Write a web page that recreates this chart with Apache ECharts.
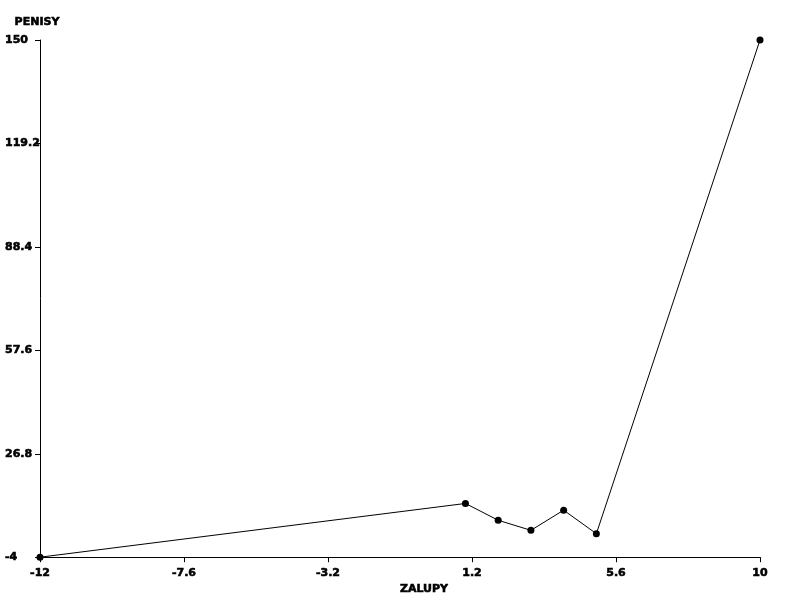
<!DOCTYPE html>
<html lang="en">
<head>
  <meta charset="UTF-8">
  <title>PENISY / ZALUPY</title>
  <script src="https://cdn.jsdelivr.net/npm/echarts@6/dist/echarts.min.js"></script>
  <style>
    html, body { margin: 0; padding: 0; background: #fff; }
  </style>
</head>
<body>
<div id="main" style="width:800px;height:600px;"></div>
<script>
  // data points
  const xValues = [-12, 1, 2, 3, 4, 5, 10];
  const yValues = [-4, 12, 7, 4, 10, 3, 150];
  // axis ranges / steps
  const xRange = [-12, 10];
  const xStep = 4.4;
  const yRange = [-4, 150];
  const yStep = 30.8;

  const font = 'DejaVu Sans';
  // heavy black text like the reference
  const txt = {
    color: '#000', fontFamily: font, fontWeight: 'bold', fontSize: 11,
    textBorderColor: '#000', textBorderWidth: 0.6
  };
  let myChart = echarts.init(document.getElementById('main'));
  let option = {
    animation: false,
    grid: { left: 40, right: 40, top: 40, bottom: 40 },
    xAxis: {
      type: 'value',
      min: xRange[0],
      max: xRange[1],
      interval: xStep,
      name: 'ZALUPY',
      nameLocation: 'middle',
      nameGap: 25,
      nameTextStyle: Object.assign({}, txt, { align: 'left' }),
      axisLine: { onZero: false, lineStyle: { color: '#000', width: 1 } },
      axisTick: { show: true, length: 5, lineStyle: { color: '#000' } },
      axisLabel: Object.assign({}, txt, { margin: 10 }),
      splitLine: { show: false }
    },
    yAxis: {
      type: 'value',
      min: yRange[0],
      max: yRange[1],
      interval: yStep,
      name: 'PENISY',
      nameLocation: 'end',
      nameGap: 12,
      nameTextStyle: Object.assign({}, txt, { padding: [0, 6, 0, 0] }),
      axisLine: { show: true, onZero: false, lineStyle: { color: '#000', width: 1 } },
      axisTick: { show: true, length: 5, lineStyle: { color: '#000' } },
      axisLabel: Object.assign({}, txt, { margin: 35, align: 'left' }),
      splitLine: { show: false }
    },
    series: [
      {
        type: 'line',
        data: xValues.map((x, i) => [x, yValues[i]]),
        symbol: 'circle',
        symbolSize: 7,
        showAllSymbol: true,
        lineStyle: { color: '#000', width: 1 },
        itemStyle: { color: '#000' }
      }
    ]
  };
  myChart.setOption(option);
</script>
</body>
</html>
